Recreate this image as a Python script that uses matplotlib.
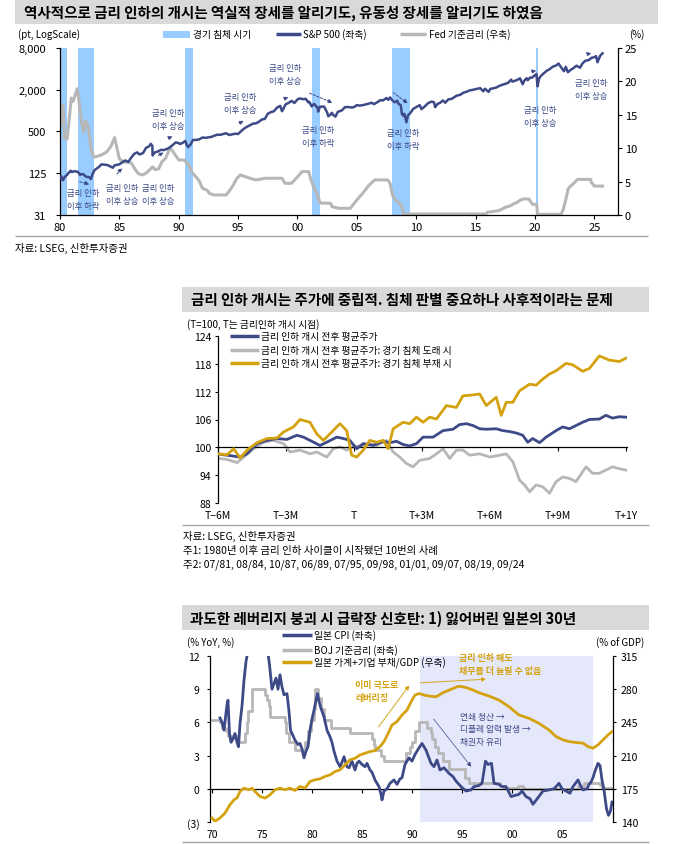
import matplotlib
matplotlib.use('Agg')
import matplotlib.pyplot as plt
from matplotlib.patches import Rectangle, FancyArrowPatch
from matplotlib.lines import Line2D
from matplotlib.ticker import NullLocator

plt.rcParams['font.family'] = ['Noto Sans CJK KR', 'DejaVu Sans']
plt.rcParams['axes.unicode_minus'] = False

# ---------------- data: panel 1 ----------------
recessions = [(1980.0, 1980.55), (1981.5, 1982.9), (1990.55, 1991.2),
              (2001.2, 2001.9), (2007.95, 2009.5), (2020.1, 2020.3)]

sp_years = [1980.00, 1980.10, 1980.20, 1980.25, 1980.40, 1980.50, 1980.70, 1980.90,
            1981.00, 1981.20, 1981.50, 1981.70, 1981.80, 1982.00, 1982.20, 1982.45,
            1982.60, 1982.75, 1982.90, 1983.00, 1983.25, 1983.50, 1983.75, 1984.00,
            1984.20, 1984.45, 1984.60, 1984.80, 1985.00, 1985.25, 1985.50, 1985.75,
            1986.00, 1986.25, 1986.50, 1986.70, 1987.00, 1987.25, 1987.50, 1987.65,
            1987.78, 1987.80, 1987.90, 1988.00, 1988.25, 1988.50, 1988.75, 1989.00,
            1989.25, 1989.50, 1989.75, 1990.00, 1990.10, 1990.30, 1990.55, 1990.70,
            1990.80, 1991.00, 1991.20, 1991.50, 1991.75, 1992.00, 1992.25, 1992.50,
            1992.75, 1993.00, 1993.25, 1993.50, 1993.75, 1994.00, 1994.25, 1994.50,
            1994.75, 1995.00, 1995.25, 1995.50, 1995.75, 1996.00, 1996.25, 1996.50,
            1996.75, 1997.00, 1997.25, 1997.50, 1997.75, 1998.00, 1998.30, 1998.55,
            1998.70, 1998.80, 1999.00, 1999.25, 1999.50, 1999.75, 2000.00, 2000.20,
            2000.50, 2000.70, 2000.90, 2001.00, 2001.20, 2001.40, 2001.70, 2001.75,
            2001.90, 2002.00, 2002.25, 2002.50, 2002.60, 2002.80, 2002.90, 2003.00,
            2003.20, 2003.40, 2003.75, 2004.00, 2004.25, 2004.50, 2004.75, 2005.00,
            2005.25, 2005.50, 2005.75, 2006.00, 2006.25, 2006.45, 2006.75, 2007.00,
            2007.20, 2007.50, 2007.65, 2007.80, 2008.00, 2008.20, 2008.40, 2008.50,
            2008.70, 2008.80, 2008.90, 2009.00, 2009.15, 2009.18, 2009.30, 2009.50,
            2009.75, 2010.00, 2010.30, 2010.45, 2010.70, 2011.00, 2011.30, 2011.50,
            2011.60, 2011.80, 2012.00, 2012.25, 2012.45, 2012.70, 2013.00, 2013.40,
            2013.70, 2014.00, 2014.25, 2014.50, 2014.75, 2015.00, 2015.40, 2015.65,
            2015.80, 2016.00, 2016.10, 2016.25, 2016.50, 2016.75, 2017.00, 2017.25,
            2017.50, 2017.75, 2018.00, 2018.10, 2018.40, 2018.75, 2018.97, 2019.10,
            2019.30, 2019.40, 2019.60, 2019.75, 2020.00, 2020.13, 2020.22, 2020.35,
            2020.50, 2020.70, 2021.00, 2021.25, 2021.50, 2021.75, 2022.00, 2022.15,
            2022.45, 2022.60, 2022.78, 2023.00, 2023.25, 2023.50, 2023.80, 2024.00,
            2024.25, 2024.45, 2024.60, 2024.75, 2025.00, 2025.15, 2025.27, 2025.40,
            2025.50, 2025.70]
sp_vals = [107, 114, 102, 99, 111, 114, 125, 136,
           130, 134, 131, 118, 122, 120, 111, 110,
           103, 122, 138, 142, 153, 168, 166, 164,
           158, 150, 163, 165, 168, 180, 191, 182,
           210, 238, 250, 233, 245, 291, 305, 332,
           310, 225, 240, 250, 258, 272, 270, 280,
           295, 320, 348, 340, 330, 340, 365, 315,
           298, 325, 378, 378, 387, 410, 405, 412,
           418, 435, 450, 448, 460, 472, 445, 455,
           465, 460, 505, 550, 585, 615, 650, 655,
           690, 745, 760, 900, 950, 975, 1110, 1170,
           980, 1050, 1230, 1290, 1380, 1290, 1450, 1500,
           1460, 1480, 1320, 1340, 1150, 1250, 1100, 970,
           1140, 1145, 1140, 940, 830, 880, 930, 870,
           820, 960, 1010, 1120, 1130, 1110, 1120, 1200,
           1180, 1200, 1230, 1260, 1300, 1240, 1330, 1420,
           1400, 1520, 1430, 1550, 1400, 1320, 1390, 1260,
           1200, 900, 850, 900, 720, 680, 850, 920,
           1060, 1120, 1200, 1050, 1140, 1280, 1350, 1320,
           1120, 1250, 1290, 1400, 1300, 1450, 1480, 1640,
           1690, 1820, 1870, 1960, 1990, 2040, 2110, 1900,
           2070, 1930, 1860, 2060, 2100, 2150, 2270, 2360,
           2430, 2520, 2800, 2620, 2720, 2920, 2400, 2700,
           2930, 2750, 3000, 2980, 3250, 3380, 2240, 2900,
           3150, 3400, 3760, 3970, 4300, 4450, 4770, 4350,
           3700, 4280, 3580, 3850, 4100, 4450, 4150, 4770,
           5250, 5300, 5450, 5760, 5900, 6100, 4980, 5650,
           6200, 6690]

fed_years = [1980.00, 1980.25, 1980.40, 1980.60, 1980.80, 1980.95, 1981.10, 1981.45,
             1981.55, 1981.80, 1982.00, 1982.15, 1982.40, 1982.60, 1982.80, 1983.00,
             1983.50, 1983.90, 1984.00, 1984.30, 1984.60, 1984.80, 1985.00, 1985.40,
             1985.70, 1986.00, 1986.30, 1986.60, 1986.90, 1987.20, 1987.50, 1987.80,
             1988.00, 1988.30, 1988.60, 1988.90, 1989.20, 1989.40, 1989.70, 1990.00,
             1990.50, 1990.90, 1991.10, 1991.40, 1991.70, 1992.00, 1992.40, 1992.60,
             1993.00, 1994.00, 1994.30, 1994.60, 1994.90, 1995.20, 1995.50, 1996.00,
             1996.50, 1997.30, 1998.70, 1998.95, 1999.50, 1999.90, 2000.40, 2000.95,
             2001.10, 2001.40, 2001.70, 2001.90, 2002.80, 2002.90, 2003.50, 2004.45,
             2005.00, 2005.50, 2006.00, 2006.50, 2007.60, 2007.80, 2008.00, 2008.25,
             2008.75, 2008.95, 2015.90, 2016.00, 2016.95, 2017.25, 2017.50, 2017.97,
             2018.25, 2018.50, 2018.75, 2019.00, 2019.50, 2019.60, 2019.80, 2020.15,
             2020.22, 2022.20, 2022.40, 2022.60, 2022.80, 2023.00, 2023.30, 2023.60,
             2024.70, 2024.75, 2024.90, 2025.00, 2025.70]
fed_vals = [13.5, 16.4, 11.4, 11.4, 14.8, 17.5, 17.0, 18.9,
            17.7, 14.0, 12.4, 14.1, 13.0, 10.1, 8.8, 8.7,
            9.0, 9.4, 9.6, 10.3, 11.6, 10.0, 8.4, 7.9,
            7.9, 7.8, 6.9, 6.2, 6.0, 6.2, 6.7, 7.2,
            6.8, 6.9, 8.0, 8.5, 9.8, 9.8, 9.0, 8.25,
            8.2, 7.3, 6.4, 5.8, 5.2, 4.0, 3.7, 3.2,
            3.0, 3.0, 3.7, 4.5, 5.5, 6.0, 5.8, 5.5,
            5.25, 5.5, 5.5, 4.75, 4.75, 5.5, 6.5, 6.5,
            5.5, 4.0, 3.0, 1.8, 1.75, 1.25, 1.0, 1.0,
            2.25, 3.25, 4.4, 5.25, 5.25, 4.75, 3.0, 2.25,
            1.5, 0.15, 0.15, 0.4, 0.65, 0.9, 1.15, 1.4,
            1.7, 1.9, 2.2, 2.4, 2.4, 2.1, 1.6, 1.6,
            0.1, 0.1, 0.9, 2.3, 3.9, 4.3, 4.8, 5.33,
            5.33, 4.85, 4.6, 4.33, 4.33]

p1_xticks = [1980, 1985, 1990, 1995, 2000, 2005, 2010, 2015, 2020, 2025]
p1_xlabels = ['80', '85', '90', '95', '00', '05', '10', '15', '20', '25']
p1_yticks = [31.25, 125, 500, 2000, 8000]
p1_ylabels = ['31', '125', '500', '2,000', '8,000']

# ---------------- data: panel 2 ----------------
avg_m = [-6.00, -5.75, -5.31, -5.02, -4.72, -4.28, -3.84, -3.40, -2.96, -2.52, -2.23,
         -1.94, -1.50, -1.20, -0.76, -0.47, -0.18, 0.12, 0.41, 0.85, 1.29, 1.58, 1.88,
         2.17, 2.46, 2.76, 3.05, 3.49, 3.93, 4.37, 4.66, 4.96, 5.25, 5.55, 5.84, 6.28,
         6.57, 6.87, 7.16, 7.45, 7.67, 7.89, 8.19, 8.48, 8.92, 9.21, 9.51, 9.80, 10.09,
         10.39, 10.83, 11.12, 11.41, 11.71, 12.00]
avg_v = [98.6, 98.4, 98.1, 97.9, 98.6, 100.8, 101.5, 101.9, 101.7, 102.6, 102.2,
         101.5, 100.4, 101.1, 102.2, 101.9, 101.5, 99.7, 100.8, 100.4, 101.3, 101.0, 101.3,
         100.6, 100.3, 100.8, 102.2, 102.2, 103.6, 103.9, 104.9, 105.1, 104.7, 104.0, 103.9, 104.0,
         103.6, 103.4, 103.1, 102.6, 101.1, 101.9, 101.0, 102.2, 103.6, 104.4, 104.0, 104.7, 105.4,
         106.0, 106.1, 106.9, 106.3, 106.6, 106.5]

norec_m = [-6.00, -5.60, -5.31, -5.02, -4.72, -4.28, -3.84, -3.40, -3.11, -2.67, -2.38,
           -1.94, -1.64, -1.35, -1.06, -0.62, -0.32, -0.10, 0.12, 0.41, 0.70, 1.00, 1.29,
           1.51, 1.73, 2.17, 2.46, 2.76, 3.05, 3.34, 3.64, 4.08, 4.52, 4.81, 5.25, 5.55,
           5.84, 6.28, 6.50, 6.72, 7.01, 7.31, 7.75, 8.04, 8.33, 8.63, 8.92, 9.36, 9.65,
           10.09, 10.39, 10.83, 11.27, 11.71, 12.00]
norec_v = [98.6, 98.4, 99.7, 97.7, 99.4, 101.0, 101.9, 102.0, 103.3, 104.4, 106.0,
           105.4, 102.9, 101.5, 102.9, 105.1, 103.6, 98.3, 97.9, 99.4, 101.5, 101.1, 101.5,
           99.7, 104.0, 105.4, 105.1, 106.5, 105.4, 106.5, 106.1, 109.0, 108.6, 111.1, 111.3, 111.5,
           109.0, 110.8, 106.9, 109.7, 109.7, 112.2, 113.6, 113.4, 114.7, 115.8, 116.5, 118.1, 117.8,
           116.4, 117.0, 119.7, 118.8, 118.5, 119.2]

rec_m = [-6.00, -5.60, -5.16, -4.87, -4.43, -3.99, -3.55, -3.11, -2.82, -2.38, -1.94,
         -1.64, -1.20, -0.91, -0.62, -0.32, -0.03, 0.41, 0.70, 1.00, 1.44, 1.73, 2.02,
         2.32, 2.61, 2.90, 3.34, 3.64, 3.93, 4.23, 4.52, 4.81, 5.11, 5.55, 5.99, 6.43,
         6.72, 7.01, 7.31, 7.53, 7.75, 8.04, 8.33, 8.63, 8.92, 9.21, 9.51, 9.80, 10.24,
         10.53, 10.83, 11.12, 11.41, 11.71, 12.00]
rec_v = [97.6, 97.4, 96.7, 97.9, 99.7, 101.1, 101.5, 100.8, 99.0, 99.4, 98.6,
         99.0, 97.9, 99.7, 100.1, 99.4, 100.1, 100.4, 100.8, 100.4, 101.5, 99.0, 97.9,
         96.5, 95.8, 97.2, 97.6, 98.6, 99.7, 97.6, 99.4, 99.4, 98.3, 98.6, 97.9, 98.3,
         98.6, 96.9, 92.9, 91.9, 90.4, 91.9, 91.5, 90.1, 92.6, 93.6, 93.3, 92.6, 95.8,
         94.4, 94.4, 95.1, 95.8, 95.4, 95.1]

p2_xticks = [-6, -3, 0, 3, 6, 9, 12]
p2_xlabels = ['T−6M', 'T−3M', 'T', 'T+3M', 'T+6M', 'T+9M', 'T+1Y']
p2_yticks = [88, 94, 100, 106, 112, 118, 124]

# ---------------- data: panel 3 ----------------
cpi_years = [1970.8, 1971.0, 1971.2, 1971.4, 1971.5, 1971.6, 1971.75, 1971.9, 1972.1, 1972.3,
             1972.5, 1972.65, 1972.8, 1973.0, 1973.2, 1973.4, 1973.6, 1973.8, 1974.1, 1974.3,
             1974.6, 1974.9, 1975.2, 1975.5, 1975.75, 1976.0, 1976.2, 1976.4, 1976.6, 1976.8,
             1977.0, 1977.2, 1977.5, 1977.7, 1977.85, 1978.1, 1978.3, 1978.6, 1978.8, 1979.0,
             1979.2, 1979.4, 1979.6, 1979.8, 1980.0, 1980.2, 1980.4, 1980.55, 1980.7, 1980.85,
             1981.2, 1981.5, 1981.8, 1982.0, 1982.2, 1982.5, 1982.8, 1983.0, 1983.2, 1983.5,
             1983.7, 1984.0, 1984.3, 1984.5, 1984.7, 1985.0, 1985.3, 1985.5, 1985.8, 1986.0,
             1986.3, 1986.7, 1986.9, 1987.0, 1987.2, 1987.5, 1987.8, 1988.2, 1988.5, 1988.8,
             1989.0, 1989.3, 1989.7, 1990.0, 1990.3, 1990.7, 1991.0, 1991.4, 1991.9, 1992.2,
             1992.5, 1992.8, 1993.2, 1993.7, 1994.1, 1994.4, 1994.9, 1995.4, 1995.9, 1996.2,
             1996.7, 1997.0, 1997.25, 1997.35, 1997.6, 1997.95, 1998.2, 1998.7, 1999.0, 1999.4,
             1999.9, 2000.3, 2000.7, 2001.0, 2001.4, 2001.8, 2002.1, 2002.6, 2003.1, 2003.7,
             2004.2, 2004.7, 2005.0, 2005.4, 2005.8, 2006.1, 2006.6, 2006.9, 2007.1, 2007.5,
             2007.7, 2007.9, 2008.1, 2008.3, 2008.6, 2008.8, 2009.0, 2009.2, 2009.45, 2009.65,
             2009.85, 2010.0]
cpi_vals = [6.4, 6.0, 5.3, 6.8, 7.6, 8.0, 5.0, 4.2, 4.5, 5.0,
            4.2, 3.8, 5.9, 7.5, 9.8, 11.5, 12.5, 15.0, 22.0, 24.5,
            23.0, 25.0, 15.0, 13.0, 11.2, 9.0, 9.5, 10.0, 9.0, 10.3,
            9.2, 8.5, 8.6, 7.0, 5.3, 4.8, 4.4, 4.0, 4.1, 3.6,
            2.8, 3.4, 3.8, 5.3, 6.3, 7.1, 8.0, 8.6, 7.9, 7.4,
            6.5, 5.3, 4.7, 4.2, 3.4, 2.5, 2.0, 2.4, 2.9, 2.0,
            1.9, 2.5, 1.7, 2.3, 2.5, 2.2, 2.0, 2.3, 1.7, 1.5,
            0.8, 0.2, -0.5, -1.0, -0.2, 0.0, 0.5, 0.8, 0.4, 0.9,
            1.0, 2.2, 2.8, 2.5, 3.1, 3.7, 4.1, 3.5, 2.3, 2.0,
            2.6, 1.7, 1.9, 1.4, 1.1, 0.7, 0.2, -0.2, -0.1, 0.2,
            0.3, 0.5, 1.9, 2.5, 2.2, 2.3, 0.5, 0.4, 0.2, 0.2,
            -0.7, -0.6, -0.5, -0.2, -0.7, -0.9, -1.4, -0.8, -0.2, -0.1,
            0.0, 0.5, 0.0, -0.2, -0.4, 0.2, 0.8, 0.2, -0.1, 0.0,
            0.4, 0.6, 1.0, 1.6, 2.3, 2.1, 0.8, -0.1, -1.8, -2.4,
            -2.0, -1.2]

boj_years = [1970.0, 1970.8, 1971.0, 1971.4, 1971.6, 1972.45, 1973.3, 1973.5, 1973.6, 1973.95,
             1975.3, 1975.45, 1975.7, 1975.85, 1977.25, 1977.4, 1977.7, 1978.3, 1979.3, 1979.6,
             1979.9, 1980.2, 1980.3, 1980.6, 1980.9, 1981.2, 1981.9, 1983.8, 1986.0, 1986.2,
             1986.3, 1986.85, 1987.15, 1989.4, 1989.8, 1989.95, 1990.25, 1990.65, 1991.5, 1991.85,
             1991.98, 1992.3, 1992.6, 1993.1, 1993.7, 1995.3, 1995.65, 1998.75, 1999.15, 2000.6,
             2001.1, 2001.3, 2006.55, 2007.15, 2008.8, 2008.95, 2010.0]
boj_vals = [6.25, 6.0, 5.5, 5.25, 4.75, 4.25, 5.0, 6.0, 7.0, 9.0,
            8.5, 8.0, 7.5, 6.5, 6.0, 5.0, 4.25, 3.5, 4.25, 5.25,
            6.25, 7.25, 9.0, 8.25, 7.25, 6.25, 5.5, 5.0, 4.5, 4.0,
            3.5, 3.0, 2.5, 3.25, 3.75, 4.25, 5.25, 6.0, 5.5, 5.0,
            4.5, 3.75, 3.25, 2.5, 1.75, 1.0, 0.5, 0.25, 0.03, 0.25,
            0.1, 0.0, 0.25, 0.5, 0.3, 0.1, 0.1]

debt_years = [1970.0, 1970.3, 1970.8, 1971.3, 1971.8, 1972.2, 1972.5, 1972.8, 1973.2, 1973.7,
              1974.0, 1974.3, 1974.8, 1975.3, 1975.8, 1976.3, 1976.8, 1977.3, 1977.8, 1978.3,
              1978.8, 1979.3, 1979.8, 1980.3, 1980.8, 1981.3, 1981.8, 1982.3, 1982.8, 1983.3,
              1983.8, 1984.3, 1984.8, 1985.3, 1985.8, 1986.3, 1986.8, 1987.2, 1987.7, 1988.0,
              1988.5, 1989.0, 1989.5, 1990.0, 1990.3, 1990.7, 1991.2, 1991.7, 1992.4, 1993.1,
              1994.1, 1994.7, 1995.4, 1996.1, 1996.7, 1997.7, 1998.7, 1999.7, 2000.7, 2001.7,
              2002.7, 2003.7, 2004.4, 2005.1, 2005.7, 2006.4, 2007.1, 2007.6, 2008.1, 2008.6,
              2009.1, 2009.6, 2010.0]
debt_vals = [144.2, 140.7, 144.2, 149.4, 158.2, 163.4, 165.2, 172.2, 175.7, 174.0,
             175.7, 172.2, 166.9, 165.2, 168.7, 174.0, 175.7, 174.0, 175.7, 173.2,
             177.5, 175.7, 182.7, 184.5, 185.5, 188.0, 189.7, 193.2, 195.0, 200.2,
             205.5, 207.2, 210.7, 212.5, 214.2, 215.3, 219.5, 224.7, 235.3, 242.3,
             245.8, 252.8, 258.0, 268.5, 273.8, 275.5, 273.8, 272.8, 272.0, 276.3,
             280.8, 283.2, 281.8, 279.1, 276.3, 272.8, 268.5, 261.5, 252.8, 249.3,
             244.0, 237.0, 230.1, 226.6, 224.8, 223.8, 223.1, 219.5, 217.8, 221.3,
             226.6, 231.8, 235.3]

p3_xticks = [1970, 1975, 1980, 1985, 1990, 1995, 2000, 2005]
p3_xlabels = ['70', '75', '80', '85', '90', '95', '00', '05']
p3_yticks = [-3, 0, 3, 6, 9, 12]
p3_ylabels = ['(3)', '0', '3', '6', '9', '12']
p3_rticks = [140, 175, 210, 245, 280, 315]

# ---------------- style ----------------
NAVY = '#3D4A87'
GRAY = '#B7B7B7'
GOLD = '#D4A20F'
LBLUE = '#99CCFF'
BANDGRAY = '#D9D9D9'
LAV = '#E5E8FA'
SEP = '#A6A6A6'

W, H = 681, 845
fig = plt.figure(figsize=(W / 100, H / 100), dpi=100)


def fx(x):
    return x / W


def fy(y):
    return 1 - y / H


def add_ax(x0, y0, x1, y1):
    return fig.add_axes([fx(x0), fy(y1), (x1 - x0) / W, (y1 - y0) / H])


def ftext(x, y, s, **kw):
    kw.setdefault('va', 'center')
    return fig.text(fx(x), fy(y), s, **kw)


def band(x0, y0, x1, y1, color):
    fig.add_artist(Rectangle((fx(x0), fy(y1)), (x1 - x0) / W, (y1 - y0) / H,
                             transform=fig.transFigure, facecolor=color, lw=0, zorder=0))


def fline(x0, x1, y, color, lw):
    fig.add_artist(Line2D([fx(x0), fx(x1)], [fy(y), fy(y)], transform=fig.transFigure,
                          color=color, lw=lw, solid_capstyle='butt'))


def farrow(x0, y0, x1, y1, color, ls=(0, (2.5, 1.5)), lw=0.7, ms=6):
    fig.add_artist(FancyArrowPatch(
        (fx(x0), fy(y0)), (fx(x1), fy(y1)), transform=fig.transFigure,
        arrowstyle='-|>', mutation_scale=ms, color=color, lw=lw, linestyle=ls))


def style_spines(ax, visible):
    for k, s in ax.spines.items():
        s.set_visible(k in visible)
        s.set_linewidth(0.9)
        s.set_color('black')


TITLE_FS = 10.5

# ================= Panel 1 =================
band(15, 0, 658, 25, BANDGRAY)
ftext(24, 13, '역사적으로 금리 인하의 개시는 역실적 장세를 알리기도, 유동성 장세를 알리기도 하였음',
      fontsize=TITLE_FS, fontweight='bold')

ftext(18, 35, '(pt, LogScale)', fontsize=7)
ftext(637, 35, '(%)', fontsize=7, ha='center')
fig.add_artist(Rectangle((fx(163), fy(38.5)), 27 / W, 7 / H, transform=fig.transFigure,
                         facecolor=LBLUE, lw=0))
ftext(193, 35, '경기 침체 시기', fontsize=7)
fline(276, 301, 35, NAVY, 2.5)
ftext(303, 35, 'S&P 500 (좌축)', fontsize=7)
fline(400, 426, 35, GRAY, 2.5)
ftext(429, 35, 'Fed 기준금리 (우축)', fontsize=7)

ax1 = add_ax(60, 49, 618, 216)
ax1r = ax1.twinx()
for s, e in recessions:
    ax1r.axvspan(s, e, color=LBLUE, lw=0, zorder=0)
ax1r.plot(fed_years, fed_vals, color=GRAY, lw=2.2, zorder=2)
ax1r.set_ylim(0, 25)
ax1r.set_yticks([0, 5, 10, 15, 20, 25])
ax1.plot(sp_years, sp_vals, color=NAVY, lw=1.8, zorder=3)
ax1.set_yscale('log')
ax1.set_ylim(31.25, 8000)
ax1.set_xlim(1980, 2027)
ax1.set_yticks(p1_yticks)
ax1.set_yticklabels(p1_ylabels)
ax1.yaxis.set_minor_locator(NullLocator())
ax1.set_xticks(p1_xticks)
ax1.set_xticklabels(p1_xlabels)
ax1.set_zorder(ax1r.get_zorder() + 1)
ax1.patch.set_visible(False)
style_spines(ax1, ['left', 'bottom'])
style_spines(ax1r, ['right'])
ax1.tick_params(axis='y', length=3, width=0.8, labelsize=8, pad=7)
ax1.tick_params(axis='x', length=3, width=0.8, labelsize=8, pad=2)
ax1r.tick_params(axis='y', length=3, width=0.8, labelsize=8, pad=2)

ann_rise = '금리 인하\n이후 상승'
ann_fall = '금리 인하\n이후 하락'
for (x, y, s) in [(83, 200, ann_fall), (122, 195, ann_rise), (158, 195, ann_rise),
                  (168, 120, ann_rise), (240, 104, ann_rise), (285, 75, ann_rise),
                  (318, 137, ann_fall), (403, 140, ann_fall), (540, 117, ann_rise),
                  (591, 90, ann_rise)]:
    ftext(x, y, s, fontsize=6, color=NAVY, ha='center', linespacing=1.7)
for (x0, y0, x1, y1) in [(77, 182, 92, 186), (115, 177, 124, 167), (156, 158, 166, 152),
                         (167, 140, 175, 136), (237, 126, 246, 120), (284, 100, 291, 97),
                         (307, 93, 335, 105), (391, 92, 410, 106), (530, 73, 539, 71),
                         (585, 56, 594, 53)]:
    farrow(x0, y0, x1, y1, NAVY)

fline(15, 648, 237, SEP, 1.0)
ftext(15, 248, '자료: LSEG, 신한투자증권', fontsize=7.5)

# ================= Panel 2 =================
band(182, 288, 649, 313, BANDGRAY)
ftext(191, 300, '금리 인하 개시는 주가에 중립적. 침체 판별 중요하나 사후적이라는 문제',
      fontsize=TITLE_FS, fontweight='bold')
ftext(187, 325, '(T=100, T는 금리인하 개시 시점)', fontsize=7)

ax2 = add_ax(218, 337, 627, 504)
ax2.plot(rec_m, rec_v, color=GRAY, lw=2.0, zorder=2)
ax2.plot(avg_m, avg_v, color=NAVY, lw=2.0, zorder=3)
ax2.plot(norec_m, norec_v, color=GOLD, lw=2.0, zorder=4)
ax2.set_xlim(-6, 12.05)
ax2.set_ylim(88, 124)
ax2.set_yticks(p2_yticks)
ax2.set_xticks(p2_xticks)
ax2.set_xticklabels(p2_xlabels)
style_spines(ax2, ['left', 'bottom'])
ax2.spines['bottom'].set_position(('data', 100))
ax2.tick_params(axis='y', length=2.5, width=0.8, labelsize=7.5, pad=2)
ax2.tick_params(axis='x', length=3, width=0.8, labelsize=7.5, pad=42)

for y, lab, c in [(337, '금리 인하 개시 전후 평균주가', NAVY),
                  (351, '금리 인하 개시 전후 평균주가: 경기 침체 도래 시', GRAY),
                  (364, '금리 인하 개시 전후 평균주가: 경기 침체 부재 시', GOLD)]:
    fline(230, 259, y, c, 2.5)
    ftext(261, y, lab, fontsize=7)

fline(182, 649, 526, SEP, 1.0)
ftext(183, 536, '자료: LSEG, 신한투자증권', fontsize=7.5)
ftext(183, 551, '주1: 1980년 이후 금리 인하 사이클이 시작됐던 10번의 사례', fontsize=7.5)
ftext(183, 565, '주2: 07/81, 08/84, 10/87, 06/89, 07/95, 09/98, 01/01, 09/07, 08/19, 09/24',
      fontsize=7.5)

# ================= Panel 3 =================
band(182, 606, 649, 631, BANDGRAY)
ftext(190, 619, '과도한 레버리지 붕괴 시 급락장 신호탄: 1) 잃어버린 일본의 30년',
      fontsize=TITLE_FS, fontweight='bold')
ftext(187, 643, '(% YoY, %)', fontsize=7)
ftext(644, 643, '(% of GDP)', fontsize=7, ha='right')

for y, lab, c in [(636, '일본 CPI (좌축)', NAVY),
                  (651, 'BOJ 기준금리 (좌축)', GRAY),
                  (663, '일본 가계+기업 부채/GDP (우축)', GOLD)]:
    fline(282, 312, y, c, 2.5)
    ftext(314, y, lab, fontsize=7)

ax3 = add_ax(210, 657, 613, 823)
ax3r = ax3.twinx()
ax3.axvspan(1990.8, 2008.1, color=LAV, lw=0, zorder=0)
ax3.plot(boj_years, boj_vals, color=GRAY, lw=2.0, zorder=2, drawstyle='steps-post')
ax3.plot(cpi_years, cpi_vals, color=NAVY, lw=2.0, zorder=3)
ax3r.plot(debt_years, debt_vals, color=GOLD, lw=2.0, zorder=3)
ax3.set_xlim(1969.8, 2010.1)
ax3.set_ylim(-3, 12)
ax3.set_yticks(p3_yticks)
ax3.set_yticklabels(p3_ylabels)
ax3.set_xticks(p3_xticks)
ax3.set_xticklabels(p3_xlabels)
ax3r.set_ylim(140, 315)
ax3r.set_yticks(p3_rticks)
style_spines(ax3, ['left', 'bottom'])
style_spines(ax3r, ['right'])
ax3.spines['bottom'].set_position(('data', 0))
ax3.tick_params(axis='y', length=2.5, width=0.8, labelsize=7.5, pad=5)
ax3.tick_params(axis='x', length=3, width=0.8, labelsize=7.5, pad=26)
ax3r.tick_params(axis='y', length=2.5, width=0.8, labelsize=7.5, pad=3)

ftext(459, 665, '금리 인하 해도\n채무를 더 늘릴 수 없음', fontsize=6.5, color=GOLD,
      fontweight='bold', linespacing=1.5)
ftext(355, 692, '이미 극도로\n레버리징', fontsize=6.5, color=GOLD, fontweight='bold',
      linespacing=1.6)
ftext(460, 730, '연쇄 청산 →\n디플레 압력 발생 →\n채권자 유리', fontsize=6.3, color=NAVY,
      linespacing=1.5)
farrow(418, 684, 489, 680, GOLD, ls=(0, (1, 1)), lw=0.8)
farrow(377, 730, 411, 684, GOLD, ls=(0, (1, 1)), lw=0.8)
farrow(432, 718, 473, 770, NAVY, ls=(0, (1, 1)), lw=0.6)

fline(182, 649, 843, SEP, 1.0)

fig.savefig('out.png', dpi=100)
